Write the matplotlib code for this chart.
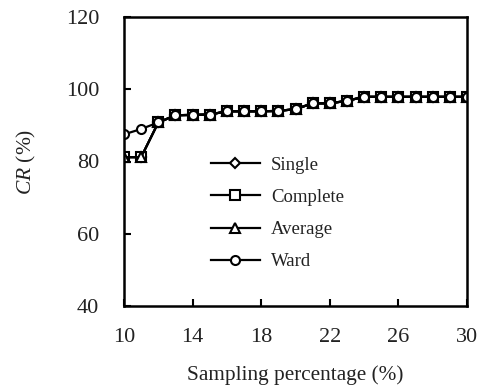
import matplotlib
matplotlib.use('Agg')
import numpy as np
import matplotlib.pyplot as plt

plt.rcParams['font.family'] = 'Liberation Serif'
plt.rcParams['mathtext.fontset'] = 'custom'
plt.rcParams['mathtext.it'] = 'Liberation Serif:italic'
plt.rcParams['mathtext.rm'] = 'Liberation Serif'
plt.rcParams['text.color'] = '#222222'
plt.rcParams['xtick.labelcolor'] = '#222222'
plt.rcParams['ytick.labelcolor'] = '#222222'
plt.rcParams['axes.labelcolor'] = '#222222'

pct = list(range(10, 31))
single = [81.2, 81.2, 90.8, 92.8, 92.9, 93.0, 93.9, 93.9, 93.9, 94.0, 94.5, 96.1, 96.1, 96.8, 97.9,
          97.9, 97.9, 97.9, 97.9, 97.9, 97.9]
complete = list(single)
average = list(single)
ward = [87.5, 89.0, 90.8, 92.8, 92.9, 93.0, 93.9, 93.9, 93.9, 94.0, 94.5, 96.1, 96.1, 96.8, 97.9,
        97.9, 97.9, 97.9, 97.9, 97.9, 97.9]

fig = plt.figure(figsize=(4.8, 3.85), dpi=100)
ax = fig.add_axes([124/480, 1-306/385, 343/480, 289/385])

style = dict(color='black', lw=1.6, mfc='white', mec='black', mew=1.5, ms=6.5)
ax.plot(pct, single, marker='D', label='Single', **dict(style, ms=5))
ax.plot(pct, complete, marker='s', label='Complete', **style)
ax.plot(pct, average, marker='^', label='Average', **style)
ax.plot(pct, ward, marker='o', label='Ward', **style)

ax.set_xlim(10, 30)
ax.set_ylim(40, 120)
ax.set_xticks([10, 14, 18, 22, 26, 30])
ax.set_yticks([40, 60, 80, 100, 120])
ax.tick_params(direction='in', length=5, width=1.5, labelsize=16)
ax.tick_params(axis='x', pad=16)
ax.tick_params(axis='y', pad=18)
for s in ax.spines.values():
    s.set_linewidth(1.8)

ax.set_xlabel('Sampling percentage (%)', fontsize=15.3, labelpad=13)
ax.set_ylabel('$\\mathit{CR}$ (%)', fontsize=15.5, labelpad=20)

ax.legend(loc='center left', bbox_to_anchor=(0.254, 0.32), frameon=False, fontsize=13.5,
          borderaxespad=0, borderpad=0, handlelength=2.6, labelspacing=0.8, handletextpad=0.6)

fig.savefig('out.png', dpi=100)
